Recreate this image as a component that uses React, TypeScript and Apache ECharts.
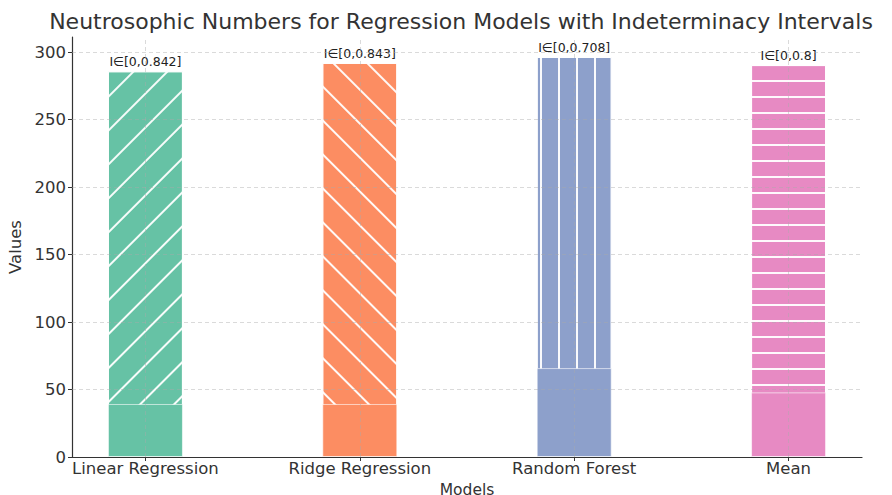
import React, { useEffect, useRef } from "react";
import * as echarts from "echarts";

const categories = ["Linear Regression", "Ridge Regression", "Random Forest", "Mean"];
const lowerValues = [39.3, 39.3, 65.9, 47.9];
const upperValues = [285.9, 292.1, 296.5, 290.5];
const intervalLabels = ["I∈[0,0.842]", "I∈[0,0.843]", "I∈[0,0.708]", "I∈[0,0.8]"];
const colors = ["#66c2a5", "#fc8d62", "#8da0cb", "#e78ac3"];
const yTicks = [0, 50, 100, 150, 200, 250, 300];
const xTicks = [0, 1, 2, 3];

const FONT = "DejaVu Sans";
const Y_MAX = 311.3;
const X_MIN = -0.3425;
const X_MAX = 3.3425;

const decals = [
  { symbol: "rect", symbolSize: 1, dashArrayX: [1, 0], dashArrayY: [1.6, 21.6], rotation: -Math.PI / 4, color: "rgba(255,255,255,0.95)" },
  { symbol: "rect", symbolSize: 1, dashArrayX: [1, 0], dashArrayY: [1.6, 21.6], rotation: Math.PI / 4, color: "rgba(255,255,255,0.95)" },
  { symbol: "rect", symbolSize: 1, dashArrayX: [1.6, 15.1], dashArrayY: [1, 0], color: "rgba(255,255,255,0.95)" },
  { symbol: "rect", symbolSize: 1, dashArrayX: [1, 0], dashArrayY: [1.6, 13.7], color: "rgba(255,255,255,0.95)" },
];

export default function App() {
  const ref = useRef<HTMLDivElement>(null);
  useEffect(() => {
    document.body.style.margin = "0";
    if (!ref.current) return;
    const chart = echarts.init(ref.current, null, { renderer: "svg" });
    const gridColor = "rgba(170,170,170,0.55)";
    const upperData = upperValues.map((v, i) => ({
      value: [i, v],
      itemStyle: { color: colors[i], borderColor: "rgba(255,255,255,0.9)", borderWidth: 1, decal: decals[i] },
    }));
    const lowerData = lowerValues.map((v, i) => ({
      value: [i, v],
      itemStyle: { color: colors[i], borderColor: "rgba(255,255,255,0.6)", borderWidth: 1 },
    }));
    chart.setOption({
      animation: false,
      textStyle: { fontFamily: FONT },
      graphic: [
        {
          type: "text",
          x: 461,
          y: 10,
          style: {
            text: "Neutrosophic Numbers for Regression Models with Indeterminacy Intervals",
            textAlign: "center",
            font: `22px '${FONT}'`,
            fill: "#333",
          },
        },
      ],
      grid: { left: 72, right: 30, top: 37, bottom: 38, containLabel: false, outerBoundsMode: "none" },
      xAxis: {
        type: "value",
        min: X_MIN,
        max: X_MAX,
        name: "Models",
        nameLocation: "middle",
        nameGap: 16,
        nameTextStyle: { fontFamily: FONT, fontSize: 15.5, lineHeight: 17, color: "#333", verticalAlign: "top" },
        axisLine: { show: true, onZero: false, lineStyle: { color: "#333", width: 1.2 } },
        axisTick: { show: true, length: 4, customValues: xTicks, lineStyle: { color: "#333" } },
        axisLabel: {
          customValues: xTicks,
          formatter: (v: number) => categories[Math.round(v)] ?? "",
          fontFamily: FONT,
          fontSize: 16.5,
          color: "#333",
          margin: 3,
        },
        splitLine: { show: false },
      },
      yAxis: {
        type: "value",
        min: 0,
        max: Y_MAX,
        name: "Values",
        nameLocation: "middle",
        nameGap: 41,
        nameTextStyle: { fontFamily: FONT, fontSize: 16.5, color: "#333" },
        axisLine: { show: true, onZero: false, lineStyle: { color: "#333", width: 1.2 } },
        axisTick: { show: true, length: 4, customValues: yTicks, lineStyle: { color: "#333" } },
        axisLabel: { customValues: yTicks, fontFamily: FONT, fontSize: 16.5, color: "#333", margin: 6 },
        splitLine: { show: false },
      },
      series: [
        {
          type: "bar",
          barWidth: 75,
          barGap: "-100%",
          data: upperData,
          label: {
            show: true,
            position: "top",
            distance: 3,
            fontFamily: FONT,
            fontSize: 12.5,
            color: "#222",
            formatter: (p: any) => intervalLabels[p.dataIndex],
          },
        },
        {
          type: "bar",
          barWidth: 75,
          barGap: "-100%",
          data: lowerData,
          markLine: {
            silent: true,
            symbol: "none",
            label: { show: false },
            lineStyle: { color: gridColor, type: [4, 3], width: 0.8 },
            data: [
              ...xTicks.map((x) => [{ coord: [x, 0] }, { coord: [x, Y_MAX] }]),
              ...yTicks.slice(1).map((y) => [{ coord: [X_MIN, y] }, { coord: [X_MAX, y] }]),
            ],
          },
        },
      ],
    });
    return () => chart.dispose();
  }, []);
  return <div ref={ref} style={{ width: 892, height: 495 }} />;
}
